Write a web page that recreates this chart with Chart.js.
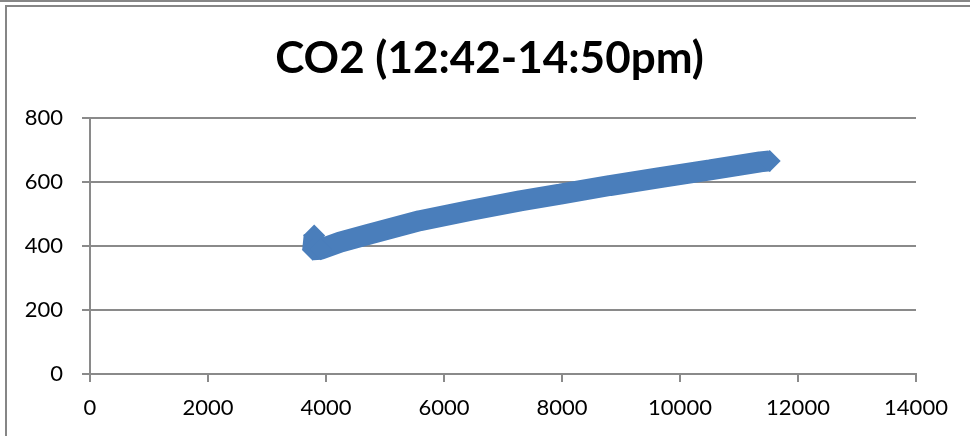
<!DOCTYPE html>
<html>
<head>
<meta charset="utf-8">
<title>CO2</title>
<script src="https://cdn.jsdelivr.net/npm/chart.js@4.4.1/dist/chart.umd.min.js"></script>
<style>
    html, body { margin: 0; padding: 0; background: #fff; }
    #wrap { position: relative; width: 970px; height: 436px; overflow: hidden; }
    .rule { position: absolute; background: #868686; }
    #co2Chart { position: absolute; left: 0; top: 0; }
</style>
</head>
<body>
<div id="wrap">
    <div class="rule" style="left:0;top:0;width:970px;height:2px"></div>
    <div class="rule" style="left:5px;top:5px;width:965px;height:2px"></div>
    <div class="rule" style="left:5px;top:5px;width:2px;height:431px"></div>
    <canvas id="co2Chart" width="970" height="436" style="width:970px;height:436px"></canvas>
</div>
<script>
// values (x = sample, y = CO2 ppm)
const xValues = [3800, 3775, 3910, 4240, 4750, 5590, 6440, 7290, 7970, 8810, 9660, 10510, 11360, 11520];
const co2Values = [433, 388, 390, 412, 438, 479, 511, 541, 562, 589, 614, 638, 663, 666];

const titleText = 'CO2 (12:42-14:50pm)';
const xTicks = [0, 2000, 4000, 6000, 8000, 10000, 12000, 14000];
const yTicks = [0, 200, 400, 600, 800];

const axisGray = '#8a8a8a';
const seriesBlue = '#4a7ebb';

function initCo2Chart() {
    const ctx = document.getElementById('co2Chart').getContext('2d');
    const points = xValues.map((x, i) => ({ x: x, y: co2Values[i] }));
    const last = points.length - 1;

    new Chart(ctx, {
        type: 'scatter',
        data: {
            datasets: [{
                label: 'CO2',
                data: points,
                showLine: true,
                borderColor: seriesBlue,
                backgroundColor: seriesBlue,
                borderWidth: 21,
                borderJoinStyle: 'bevel',
                borderCapStyle: 'butt',
                tension: 0,
                pointStyle: 'rectRot',
                // diamonds only show where the band starts and ends
                pointRadius: (c) => (c.dataIndex < 3 || c.dataIndex === last) ? 11 : 0,
                pointBorderWidth: 0,
                pointBackgroundColor: seriesBlue,
                clip: false
            }]
        },
        options: {
            responsive: false,
            animation: false,
            layout: { padding: { left: 9, right: 0, top: 0, bottom: 0 } },
            plugins: {
                legend: { display: false },
                tooltip: { enabled: false },
                title: {
                    display: true,
                    text: titleText,
                    color: '#000',
                    font: { family: 'Lato', size: 44, weight: 'bold', lineHeight: 1.2 },
                    padding: { top: 32, bottom: 33.2 }
                }
            },
            scales: {
                x: {
                    type: 'linear',
                    min: xTicks[0],
                    max: xTicks[xTicks.length - 1],
                    afterBuildTicks: (s) => { s.ticks = xTicks.map(v => ({ value: v })); },
                    ticks: {
                        color: '#000', font: { family: 'Lato', size: 22 }, padding: 13, maxRotation: 0,
                        callback: (v) => String(v)
                    },
                    grid: { drawOnChartArea: false, tickLength: 8, color: axisGray, lineWidth: 2 },
                    border: { color: axisGray, width: 2 },
                    afterFit: (s) => { s.height = 62; }
                },
                y: {
                    min: yTicks[0],
                    max: yTicks[yTicks.length - 1],
                    afterBuildTicks: (s) => { s.ticks = yTicks.map(v => ({ value: v })); },
                    ticks: {
                        color: '#000', font: { family: 'Lato', size: 22 }, padding: 19,
                        callback: (v) => String(v)
                    },
                    grid: { tickLength: 8, color: axisGray, lineWidth: 2 },
                    border: { color: axisGray, width: 2 },
                    afterFit: (s) => { s.width = 81; }
                },
                // empty right-hand box, only keeps the plot right edge where the reference has it
                yr: {
                    position: 'right',
                    grid: { display: false },
                    ticks: { display: false },
                    border: { display: false },
                    afterFit: (s) => { s.width = 54; }
                }
            }
        }
    });
}

Promise.all([
    document.fonts.load('bold 44px Lato'),
    document.fonts.load('22px Lato')
]).then(initCo2Chart, initCo2Chart);
</script>
</body>
</html>
